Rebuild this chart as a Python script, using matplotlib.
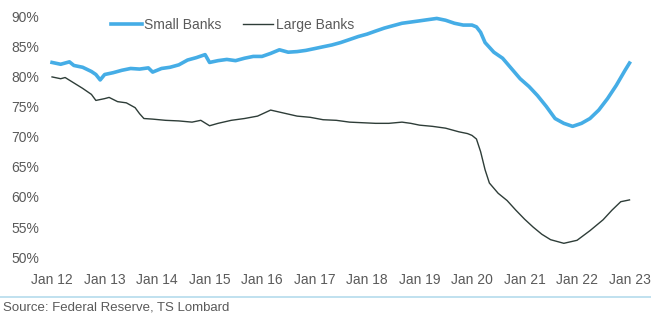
import matplotlib
matplotlib.use('Agg')
import matplotlib.pyplot as plt
import matplotlib.dates as mdates
from matplotlib.lines import Line2D
import pandas as pd

small_dates = ['2012-01', '2012-03', '2012-05', '2012-06', '2012-08', '2012-10', '2012-11', '2012-12',
               '2013-01', '2013-03', '2013-05', '2013-07', '2013-09', '2013-11', '2013-12',
               '2014-02', '2014-04', '2014-06', '2014-08', '2014-10', '2014-12',
               '2015-01', '2015-03', '2015-05', '2015-07', '2015-09', '2015-11',
               '2016-01', '2016-03', '2016-05', '2016-07', '2016-09', '2016-11',
               '2017-01', '2017-03', '2017-05', '2017-07', '2017-09', '2017-11',
               '2018-01', '2018-03', '2018-05', '2018-07', '2018-09', '2018-11',
               '2019-01', '2019-03', '2019-05', '2019-07', '2019-09', '2019-11',
               '2020-01', '2020-02', '2020-03', '2020-04', '2020-06', '2020-08', '2020-10', '2020-12',
               '2021-02', '2021-04', '2021-06', '2021-08', '2021-10', '2021-12',
               '2022-02', '2022-04', '2022-06', '2022-08', '2022-10', '2022-12', '2023-01']
small_banks = [82.3, 82.0, 82.4, 81.8, 81.5, 80.8, 80.3, 79.4,
               80.3, 80.6, 81.0, 81.3, 81.2, 81.4, 80.7,
               81.3, 81.5, 81.9, 82.7, 83.1, 83.6,
               82.3, 82.6, 82.8, 82.6, 83.0, 83.3,
               83.3, 83.8, 84.4, 84.0, 84.1, 84.3,
               84.6, 84.9, 85.2, 85.6, 86.1, 86.6,
               87.0, 87.5, 88.0, 88.4, 88.8, 89.0,
               89.2, 89.4, 89.6, 89.3, 88.8, 88.5,
               88.5, 88.2, 87.3, 85.6, 84.0, 83.0, 81.3, 79.6,
               78.3, 76.8, 75.0, 73.0, 72.2, 71.7,
               72.2, 73.0, 74.4, 76.3, 78.5, 81.0, 82.2]

large_dates = ['2012-01', '2012-03', '2012-04', '2012-06', '2012-08', '2012-10', '2012-11',
               '2013-01', '2013-02', '2013-04', '2013-06', '2013-08', '2013-09', '2013-10', '2013-12',
               '2014-03', '2014-06', '2014-09', '2014-11',
               '2015-01', '2015-03', '2015-06', '2015-09', '2015-12',
               '2016-03', '2016-06', '2016-09', '2016-12',
               '2017-03', '2017-06', '2017-09', '2017-12',
               '2018-03', '2018-06', '2018-09', '2018-11',
               '2019-01', '2019-04', '2019-07', '2019-10', '2019-12',
               '2020-01', '2020-02', '2020-03', '2020-04', '2020-05', '2020-07', '2020-09', '2020-11',
               '2021-01', '2021-03', '2021-05', '2021-07', '2021-10',
               '2022-01', '2022-04', '2022-07', '2022-09', '2022-11', '2023-01']
large_banks = [79.9, 79.6, 79.8, 78.9, 78.0, 77.0, 76.0,
               76.3, 76.5, 75.8, 75.6, 74.8, 73.8, 73.0, 72.9,
               72.7, 72.6, 72.4, 72.7,
               71.8, 72.2, 72.7, 73.0, 73.4,
               74.4, 73.9, 73.4, 73.2,
               72.8, 72.7, 72.4, 72.3,
               72.2, 72.2, 72.4, 72.2,
               71.9, 71.7, 71.4, 70.8, 70.5,
               70.2, 69.6, 67.5, 64.5, 62.3, 60.6, 59.4, 57.8, 56.3,
               55.0, 53.8, 52.9, 52.3,
               52.8, 54.4, 56.2, 57.8, 59.2, 59.5]

y_ticks = [50, 55, 60, 65, 70, 75, 80, 85, 90]

text_color = '#5a5a5a'
plt.rcParams['font.family'] = ['Liberation Sans', 'DejaVu Sans']
plt.rcParams['font.size'] = 10

fig = plt.figure(figsize=(6.51, 3.2), dpi=100)
ax = fig.add_axes([45 / 651, (320 - 262) / 320, (640 - 45) / 651, (262 - 10) / 320])

ax.plot(pd.to_datetime(small_dates), small_banks, color='#45ade6', lw=2.6, label='Small Banks')
ax.plot(pd.to_datetime(large_dates), large_banks, color='#2e3d38', lw=1.0, label='Large Banks')

ax.set_xlim(pd.Timestamp('2011-11-13'), pd.Timestamp('2023-03-15'))
ax.set_ylim(49.2, 91.0)
ax.set_yticks(y_ticks)
ax.set_yticklabels([f'{v}%' for v in y_ticks])
ax.xaxis.set_major_locator(mdates.YearLocator())
ax.xaxis.set_major_formatter(mdates.DateFormatter('%b %y'))
ax.tick_params(length=0, colors=text_color, labelsize=10)
ax.tick_params(axis='y', pad=4)
ax.tick_params(axis='x', pad=8)
for s in ax.spines.values():
    s.set_visible(False)

ax.legend(loc='upper left', bbox_to_anchor=(0.09, 1.018), ncol=2, frameon=False,
          handlelength=2.2, handletextpad=0.2, columnspacing=1.5, labelcolor=text_color)

fig.add_artist(Line2D([0, 1], [23 / 320, 23 / 320], color='#b5dcec', lw=1.2, transform=fig.transFigure))
fig.text(0.005, 13 / 320, 'Source: Federal Reserve, TS Lombard', color=text_color, fontsize=9.5, va='center')

fig.savefig('out.png', dpi=100)
